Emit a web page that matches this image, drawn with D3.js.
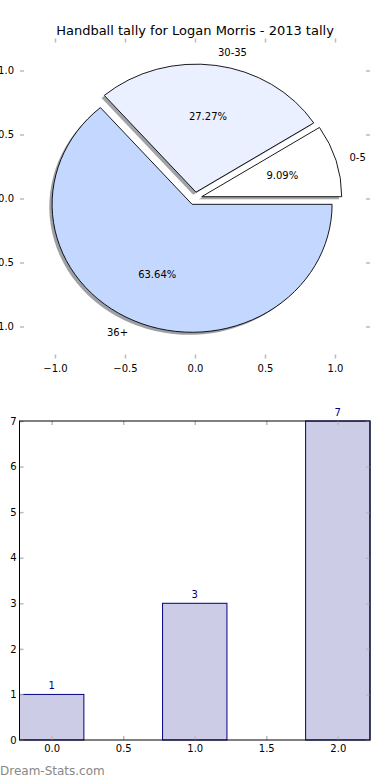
<!DOCTYPE html>
<html>
<head>
<meta charset="utf-8">
<script src="https://cdn.jsdelivr.net/npm/d3@7"></script>
<style>
  body { margin: 0; background: #fff; }
  text { font-family: "DejaVu Sans", sans-serif; }
</style>
</head>
<body>
<svg id="chart" width="390" height="780"></svg>
<script>
// data
var categories = ["0-5", "30-35", "36+"];
var tally = [1, 3, 7];
var sliceColors = ["#ffffff", "#eaf0ff", "#c4d8ff"];
var pieTicks = [-1.0, -0.5, 0.0, 0.5, 1.0];
var barXTicks = [0.0, 0.5, 1.0, 1.5, 2.0];
var barYTicks = [0, 1, 2, 3, 4, 5, 6, 7];

var svg = d3.select("#chart");
var fmt = d3.format(".1f");

// ---------- pie ----------
var px = d3.scaleLinear().domain([-1.25, 1.25]).range([20, 370]);
var py = d3.scaleLinear().domain([-1.25, 1.25]).range([358.5, 38.5]);
var kx = px(1) - px(0), ky = py(0) - py(1);

svg.append("text")
    .attr("x", 195).attr("y", 35)
    .attr("text-anchor", "middle")
    .style("font-size", "13px")
    .text("Handball tally for Logan Morris - 2013 tally");

// matplotlib style: start at 3 o'clock, counterclockwise
var pie = d3.pie().sort(null).startAngle(Math.PI / 2).endAngle(Math.PI / 2 - 2 * Math.PI);
var arcs = pie(tally);
var total = d3.sum(tally);
var unitArc = d3.arc().innerRadius(0).outerRadius(1);

function mid(d) { return Math.PI / 2 - (d.startAngle + d.endAngle) / 2; }

var pieG = svg.append("g");

function placeSlice(d, off) {
  var t = mid(d);
  var cx = px(0.05 * Math.cos(t) + off), cy = py(0.05 * Math.sin(t) + off);
  return "translate(" + cx + "," + cy + ") scale(" + kx + "," + ky + ")";
}

// shadows
pieG.selectAll(".shadow")
    .data(arcs)
  .enter().append("path")
    .attr("class", "shadow")
    .attr("d", unitArc)
    .attr("transform", function(d) { return placeSlice(d, -0.02); })
    .style("fill", function(d, i) {
      var c = d3.rgb(sliceColors[i]);
      return d3.rgb(c.r * 0.3, c.g * 0.3, c.b * 0.3);
    })
    .style("opacity", 0.5);

pieG.selectAll(".slice")
    .data(arcs)
  .enter().append("path")
    .attr("class", "slice")
    .attr("d", unitArc)
    .attr("transform", function(d) { return placeSlice(d, 0); })
    .style("fill", function(d, i) { return sliceColors[i]; })
    .style("stroke", "#000")
    .style("stroke-width", 0.9)
    .attr("vector-effect", "non-scaling-stroke");

// labels
pieG.selectAll(".plabel")
    .data(arcs)
  .enter().append("text")
    .attr("class", "plabel")
    .attr("x", function(d) { return px(1.15 * Math.cos(mid(d))); })
    .attr("y", function(d) { return py(1.15 * Math.sin(mid(d))); })
    .attr("dy", "0.35em")
    .attr("text-anchor", function(d) { return Math.cos(mid(d)) > 0 ? "start" : "end"; })
    .style("font-size", "10px")
    .text(function(d, i) { return categories[i]; });

pieG.selectAll(".pct")
    .data(arcs)
  .enter().append("text")
    .attr("class", "pct")
    .attr("x", function(d) { return px(0.65 * Math.cos(mid(d))); })
    .attr("y", function(d) { return py(0.65 * Math.sin(mid(d))); })
    .attr("dy", "0.35em")
    .attr("text-anchor", "middle")
    .style("font-size", "10px")
    .text(function(d) { return d3.format(".2f")(d.value / total * 100) + "%"; });

function styleAxis(g) {
  g.select(".domain").remove();
  g.selectAll(".tick line").style("stroke", "#bbb").style("stroke-width", 1.5);
  g.selectAll(".tick text").style("font-size", "10px").style("font-family", "DejaVu Sans, sans-serif");
}

svg.append("g").attr("transform", "translate(0," + py(-1.25) + ")")
    .call(d3.axisBottom(px).tickValues(pieTicks).tickFormat(fmt).tickSize(-4).tickPadding(6))
    .call(styleAxis);
svg.append("g").attr("transform", "translate(0," + py(1.25) + ")")
    .call(d3.axisTop(px).tickValues(pieTicks).tickFormat("").tickSize(-4))
    .call(styleAxis);
svg.append("g").attr("transform", "translate(" + px(-1.25) + ",0)")
    .call(d3.axisLeft(py).tickValues(pieTicks).tickFormat(fmt).tickSize(-4).tickPadding(6))
    .call(styleAxis);
svg.append("g").attr("transform", "translate(" + px(1.25) + ",0)")
    .call(d3.axisRight(py).tickValues(pieTicks).tickFormat("").tickSize(-4))
    .call(styleAxis);

// ---------- bars ----------
var bx = d3.scaleLinear().domain([-0.225, 2.225]).range([19.5, 370]);
var by = d3.scaleLinear().domain([0, 7]).range([740, 421]);
var bw = 0.45;

var barG = svg.append("g");

barG.selectAll(".bar")
    .data(tally)
  .enter().append("rect")
    .attr("class", "bar")
    .attr("x", function(d, i) { return bx(i - bw / 2); })
    .attr("width", bx(bw) - bx(0))
    .attr("y", function(d) { return by(d); })
    .attr("height", function(d) { return by(0) - by(d); })
    .style("fill", "#ccccE6")
    .style("stroke", "#000080")
    .style("stroke-width", 1);

barG.selectAll(".val")
    .data(tally)
  .enter().append("text")
    .attr("class", "val")
    .attr("x", function(d, i) { return bx(i); })
    .attr("y", function(d) { return by(d) - 5; })
    .attr("text-anchor", "middle")
    .style("font-size", "10px")
    .style("fill", "#000080")
    .text(function(d) { return d; });

svg.append("g").attr("transform", "translate(0," + by(0) + ")")
    .call(d3.axisBottom(bx).tickValues(barXTicks).tickFormat(fmt).tickSize(-4).tickPadding(5))
    .call(styleAxis);
svg.append("g").attr("transform", "translate(0," + by(7) + ")")
    .call(d3.axisTop(bx).tickValues(barXTicks).tickFormat("").tickSize(-4))
    .call(styleAxis);
svg.append("g").attr("transform", "translate(" + bx(-0.225) + ",0)")
    .call(d3.axisLeft(by).tickValues(barYTicks).tickFormat(d3.format("d")).tickSize(-4).tickPadding(3))
    .call(styleAxis);
svg.append("g").attr("transform", "translate(" + bx(2.225) + ",0)")
    .call(d3.axisRight(by).tickValues(barYTicks).tickFormat("").tickSize(-4))
    .call(styleAxis);

// frame
svg.append("rect")
    .attr("x", bx(-0.225)).attr("y", by(7))
    .attr("width", bx(2.225) - bx(-0.225))
    .attr("height", by(0) - by(7))
    .style("fill", "none")
    .style("stroke", "#000")
    .style("stroke-width", 1);

svg.append("text")
    .attr("x", 0).attr("y", 775)
    .style("font-size", "12px")
    .style("fill", "#888")
    .text("Dream-Stats.com");
</script>
</body>
</html>
